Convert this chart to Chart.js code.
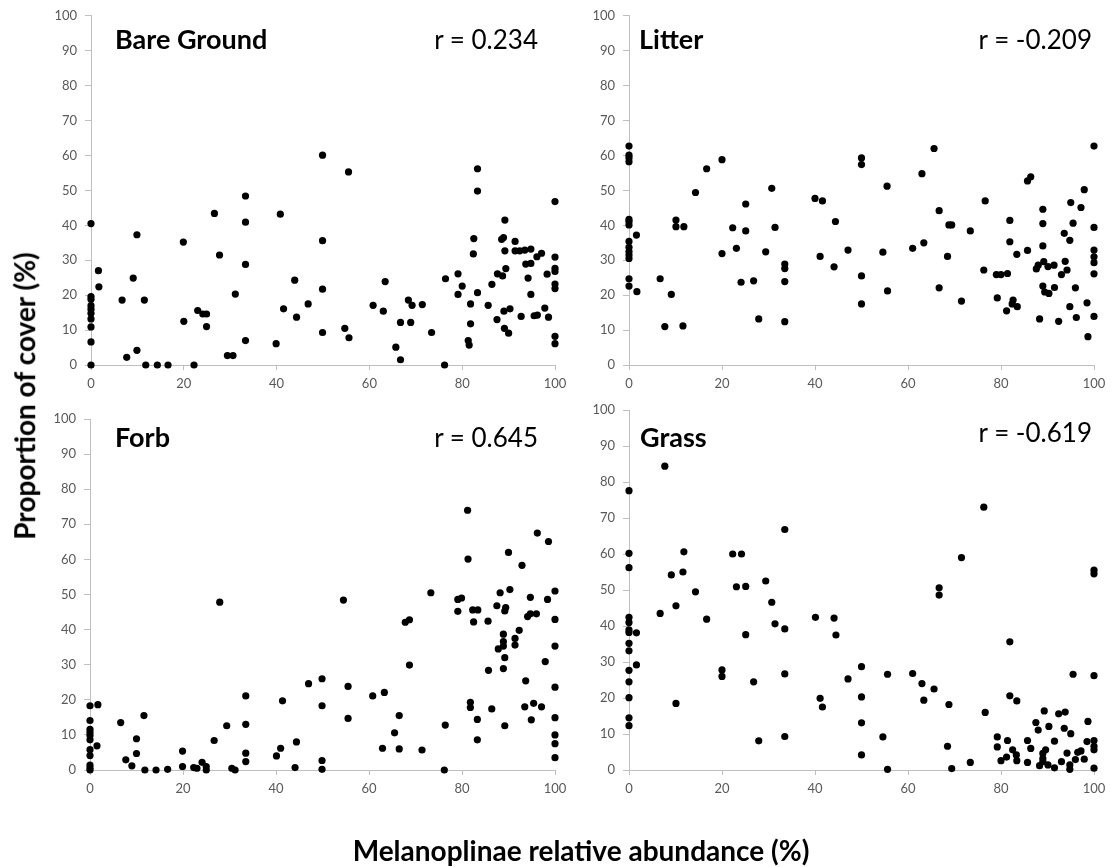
<!DOCTYPE html>
<html>
<head>
<meta charset="utf-8">
<title>Proportion of cover vs Melanoplinae relative abundance</title>
<script src="https://cdn.jsdelivr.net/npm/chart.js@4.4.1/dist/chart.umd.min.js"></script>
<style>
  html, body { margin: 0; padding: 0; background: #fff; }
  #wrap { position: relative; width: 1112px; height: 867px; overflow: hidden; }
  #wrap canvas { position: absolute; left: 0; top: 0; }
  .txt { position: absolute; font-family: Lato, "Open Sans", sans-serif; color: #000; white-space: nowrap; line-height: 1.2; }
  .bold { font-weight: bold; }
</style>
</head>
<body>
<div id="wrap">
  <canvas id="c0" width="1112" height="867"></canvas>
  <canvas id="c1" width="1112" height="867"></canvas>
  <canvas id="c2" width="1112" height="867"></canvas>
  <canvas id="c3" width="1112" height="867"></canvas>
</div>
<script>
// Datos: [abundancia Melanoplinae (%), cobertura (%)]
const bareGround = [
  [0,40.5],[0,19.6],[0,18.8],[0,17],[0,16],[0,14.8],[0,13.2],[0,10.9],[0,6.6],[0,0],
  [1.6,27],[1.7,22.4],[6.7,18.6],[7.7,2.2],[9.1,24.9],[9.9,37.3],[9.9,4.2],[11.5,18.6],[11.8,0],[14.3,0],
  [16.6,0],[19.9,35.2],[20,12.5],[22.2,0],[23,15.6],[24.1,14.6],[24.9,14.6],[24.9,11],[26.6,43.4],[27.7,31.5],
  [29.4,2.7],[30.6,2.7],[31.1,20.3],[33.3,48.4],[33.3,40.9],[33.3,28.8],[33.3,7],[39.9,6.1],[40.8,43.2],[41.5,16.1],
  [43.9,24.3],[44.3,13.7],[46.8,17.5],[49.9,60.1],[49.9,35.6],[49.9,21.7],[49.9,9.3],[55.5,55.3],[54.7,10.5],[55.6,7.8],
  [60.8,17.1],[63,15.4],[63.4,23.9],[65.7,5.1],[66.7,1.5],[66.7,12.2],[68.4,18.6],[69.2,17.1],[68.9,12.2],[71.4,17.3],
  [73.4,9.3],[76.2,0],[76.4,24.7],[79.1,26.1],[80,22.6],[79.1,20.2],[81.8,17.5],[81.8,11.8],[81.3,7],[81.5,5.7],
  [82.5,36.2],[82.4,31.8],[83.3,56.2],[83.3,49.8],[83.3,20.7],[85.6,17.1],[86.4,23.1],[87.5,13],[87.6,26.1],[88.5,36],
  [88.9,36.5],[89.2,41.5],[89.2,32.7],[89.4,27.6],[88.7,25.5],[89,15.4],[89.1,10.5],[90,9.1],[90.3,16.1],[91.4,35.4],
  [91.4,32.7],[92.4,32.7],[93.5,32.9],[94.8,33.2],[93.7,28.9],[94.8,29.1],[94.2,24.9],[94.8,20.2],[92.7,13.9],[95.5,14.1],
  [96.2,14.3],[96.1,31],[97.1,32],[97.8,16.3],[98.3,26],[98.6,13.7],[100,46.8],[100,30.9],[100,27.7],[100,26.8],
  [100,23.2],[100,21.9],[100,8.2],[100,6.1]
];

const litter = [
  [0,62.7],[0,60.1],[0,59.3],[0,58.2],[0,41.7],[0,41.1],[0,40.1],[0,35.4],[0,33.7],[0,32.5],[0,31.5],[0,30.5],[0,24.7],[0,22.6],
  [1.6,37.2],[1.7,21],[6.7,24.7],[7.7,11],[9.1,20.2],[10.1,41.5],[10.1,39.6],[11.6,11.2],[11.8,39.6],[14.3,49.4],
  [16.7,56.2],[20,58.8],[20,31.9],[22.3,39.3],[23.1,33.4],[24.1,23.7],[25.1,46.1],[25.1,38.4],[26.8,24.1],[27.9,13.2],
  [29.4,32.4],[30.7,50.6],[31.4,39.4],[33.5,28.9],[33.5,27.6],[33.5,23.9],[33.5,12.4],[40,47.7],[41.6,47],[41.1,31.1],
  [44.4,41.1],[44.1,28.1],[47.1,32.9],[50,59.3],[50,57.4],[50,25.5],[50,17.5],[54.6,32.3],[55.5,51.2],[55.6,21.2],
  [61,33.4],[63,54.8],[63.4,35],[65.6,62],[66.7,44.2],[66.7,22.1],[68.5,31.1],[68.8,40.1],[69.4,40.1],[71.5,18.3],
  [73.4,38.4],[76.6,47],[76.3,27.2],[79.2,19.2],[79,25.9],[80,25.9],[81.4,26.2],[81.9,41.4],[81.9,35.3],[81.2,15.5],
  [82.6,18.6],[82.4,17.5],[83.5,16.7],[83.4,31.7],[85.7,32.8],[85.7,52.7],[86.4,53.9],[88.3,13.2],[89,44.6],[89,40.5],
  [89,34.1],[89.2,29.6],[88,28.6],[87.6,27.5],[90.1,28.2],[91.4,28.6],[89,22.6],[89.4,20.9],[90.3,20.5],[91.5,22.2],
  [92.4,12.5],[93.6,37.7],[95,46.5],[95.5,40.6],[94.8,35.7],[93.8,29.7],[94.2,27.2],[93,25.9],[96,22.1],[94.8,16.7],
  [96.2,13.6],[97.2,45.1],[97.9,50.2],[98.5,17.8],[98.7,8.1],[100,62.7],[100,39.4],[100,32.9],[100,31],[100,29.3],
  [100,26.1],[100,13.9]
];

const forb = [
  [0,18.3],[0,14.1],[0,11.6],[0,10.7],[0,9.8],[0,8.6],[0,5.8],[0,4.1],[0,1.4],[0,0.6],[0,0],
  [1.7,18.6],[1.5,6.9],[6.6,13.5],[7.7,2.9],[9,1.2],[10,8.9],[10,4.7],[11.6,15.5],[11.8,0],[14.2,0],
  [16.7,0.2],[19.9,5.4],[19.9,1],[22.3,0.7],[23,0.5],[24.1,2.2],[25,1],[25,0],[26.7,8.4],[27.9,47.8],
  [29.4,12.6],[30.5,0.5],[31.2,0],[33.5,21.1],[33.5,13],[33.5,4.8],[33.5,2.4],[40.1,4],[41,6.2],[41.4,19.7],
  [44.1,0.7],[44.4,8],[47,24.6],[49.9,26],[49.9,18.3],[49.9,2.7],[49.9,0.2],[54.5,48.4],[55.5,23.8],[55.5,14.7],
  [60.8,21.1],[63.3,22.1],[62.9,6.2],[65.5,10.6],[66.5,15.5],[66.5,6],[67.8,42.1],[68.7,42.8],[68.7,29.9],[71.4,5.7],
  [73.3,50.5],[76.2,0],[76.4,12.8],[79.1,48.6],[79.9,49],[79.1,45.2],[81.2,74],[81.3,60.1],[81.8,19.3],[81.8,17.8],
  [82.3,45.6],[83.4,45.6],[82.5,42.2],[83.3,14.4],[83.3,8.6],[85.6,42.4],[85.7,28.4],[86.4,17.4],[87.5,46.8],[88.2,50.5],
  [89.4,46.3],[89.2,45.3],[88.9,38.7],[88.9,36.6],[88.9,35.3],[87.8,34.5],[89.2,32],[88.9,28.9],[89.2,12.6],[90,62],
  [90.3,51.4],[91.4,37.5],[91.4,35.6],[92.3,39.8],[92.9,58.3],[93.7,25.4],[93.5,18],[94.7,49.2],[94.1,43.7],[94.7,44.5],
  [96,44.5],[94.9,14.3],[95.4,19],[96.2,67.5],[97.1,18],[97.9,30.9],[98.4,48.6],[98.6,65.1],[100,51],[100,42.9],
  [100,35.3],[100,23.6],[100,14.9],[100,10],[100,7.5],[100,3.5]
];

const grass = [
  [0,77.6],[0,60.2],[0,56.2],[0,42.4],[0,41],[0,38.9],[0,38.2],[0,35.2],[0,33.1],[0,27.7],[0,24.5],[0,20.1],[0,14.5],[0,12.3],
  [1.6,38.1],[1.6,29.2],[6.7,43.5],[7.7,84.4],[9.1,54.2],[10.1,45.6],[10.1,18.5],[11.6,55],[11.8,60.6],[14.3,49.5],
  [16.7,41.9],[20,27.8],[20,26],[22.3,60],[24.2,60],[23.1,50.9],[25.1,51],[25.1,37.6],[26.8,24.5],[27.9,8.1],
  [29.4,52.5],[30.7,46.6],[31.4,40.6],[33.5,66.8],[33.5,39.2],[33.5,26.7],[33.5,9.3],[40.1,42.4],[41.1,19.9],[41.6,17.5],
  [44.1,42.2],[44.5,37.5],[47.1,25.3],[50,28.7],[50,20.3],[50,13.1],[50,4.2],[54.6,9.2],[55.6,26.6],[55.6,0.2],
  [61,26.8],[63,24],[63.4,19.4],[65.6,22.5],[66.7,50.6],[66.7,48.6],[68.5,6.6],[68.8,18.2],[69.4,0.4],[71.5,59],
  [73.4,2.1],[76.3,73],[76.6,16],[79.2,9.2],[79.2,6.4],[80,2.6],[81.2,3.6],[81.4,8.2],[81.9,35.6],[81.9,20.6],
  [82.5,5.6],[83.4,19.2],[83.3,4.2],[83.4,2.6],[85.7,8.2],[85.7,2.1],[86.4,6],[87.5,13.2],[88,11.1],[88.3,1.2],
  [89,4.6],[89,3.2],[89,2.3],[89.3,16.4],[89.6,5.6],[90.1,1.4],[90.3,12.1],[91.5,8],[91.5,0.6],[92.4,15.6],
  [93.8,16.1],[93,2.3],[93.6,11.6],[94.2,4.7],[94.8,1.4],[94.8,0.2],[95,10.1],[95.5,26.6],[96,2.9],[96.5,4.9],
  [97.2,5.3],[97.9,3],[98.5,7.9],[98.7,13.5],[100,55.5],[100,54.5],[100,26.2],[100,8.2],[100,6.6],[100,5.6],
  [100,0.5]
];

const panelLabels = ['Bare Ground', 'Litter', 'Forb', 'Grass'];
const rValues = ['r = 0.234', 'r = -0.209', 'r = 0.645', 'r = -0.619'];
const yTitle = 'Proportion of cover (%)';
const xTitle = 'Melanoplinae relative abundance (%)';

// Ubicación de cada panel (área de trazado y textos) en píxeles de la página
const W = 1112, H = 867;
const Y_W = 40, X_H = 30;
const layout = [
  { area: { left: 91,  top: 14,  right: 555,  bottom: 365 }, labelX: 115, rRight: 538,  base: 50,  rBase: 50 },
  { area: { left: 629, top: 14,  right: 1094, bottom: 365 }, labelX: 639, rRight: 1092, base: 50,  rBase: 50 },
  { area: { left: 90,  top: 419, right: 555,  bottom: 770 }, labelX: 115, rRight: 538,  base: 448, rBase: 448 },
  { area: { left: 629, top: 410, right: 1094, bottom: 770 }, labelX: 640, rRight: 1092, base: 448, rBase: 443 }
];
const series = [bareGround, litter, forb, grass];

const axisColor = '#bfbfbf';
const tickFont = { family: 'Lato, "Open Sans", sans-serif', size: 13 };
const tickColor = '#595959';
const ASC = 0.987; // ascenso aproximado de Lato

const wrap = document.getElementById('wrap');

function addText(text, css) {
  const d = document.createElement('div');
  d.className = 'txt' + (css.bold ? ' bold' : '');
  d.textContent = text;
  d.style.fontSize = css.size + 'px';
  if (css.left !== undefined) d.style.left = css.left + 'px';
  if (css.right !== undefined) d.style.right = css.right + 'px';
  d.style.top = css.top + 'px';
  if (css.transform) d.style.transform = css.transform;
  wrap.appendChild(d);
  return d;
}

function makePanel(i) {
  const a = layout[i].area;
  new Chart(document.getElementById('c' + i), {
    type: 'scatter',
    data: {
      datasets: [{
        data: series[i].map(p => ({ x: p[0], y: p[1] })),
        backgroundColor: '#000',
        borderWidth: 0,
        pointRadius: 3.6,
        pointHoverRadius: 3.6,
        clip: false
      }]
    },
    options: {
      responsive: false,
      animation: false,
      events: [],
      layout: {
        padding: { left: a.left - Y_W, top: a.top, right: W - a.right, bottom: H - a.bottom - X_H }
      },
      plugins: { legend: { display: false }, tooltip: { enabled: false } },
      scales: {
        x: {
          type: 'linear', min: 0, max: 100,
          ticks: { stepSize: 20, color: tickColor, font: tickFont, padding: 6, maxRotation: 0 },
          grid: { drawOnChartArea: false, color: axisColor, tickColor: axisColor, tickLength: 5 },
          border: { color: axisColor },
          afterFit: s => { s.height = X_H; }
        },
        y: {
          type: 'linear', min: 0, max: 100,
          ticks: { stepSize: 10, color: tickColor, font: tickFont, padding: 8 },
          grid: { drawOnChartArea: false, color: axisColor, tickColor: axisColor, tickLength: 6 },
          border: { color: axisColor },
          afterFit: s => { s.width = Y_W; }
        }
      }
    }
  });

  // Etiqueta del panel y coeficiente r
  const lab = 27, rs = 26;
  addText(panelLabels[i], { bold: true, size: lab, left: layout[i].labelX, top: layout[i].base - ASC * lab });
  addText(rValues[i], { size: rs, right: W - layout[i].rRight, top: layout[i].rBase - ASC * rs });
}

for (let i = 0; i < 4; i++) makePanel(i);

// Títulos de los ejes
const TS = 28;
addText(xTitle, { bold: true, size: TS, left: 581, top: 862 - ASC * TS, transform: 'translateX(-50%)' });
addText(yTitle, { bold: true, size: TS, left: 25, top: 396, transform: 'translate(-50%, -50%) rotate(-90deg)' });
</script>
</body>
</html>
